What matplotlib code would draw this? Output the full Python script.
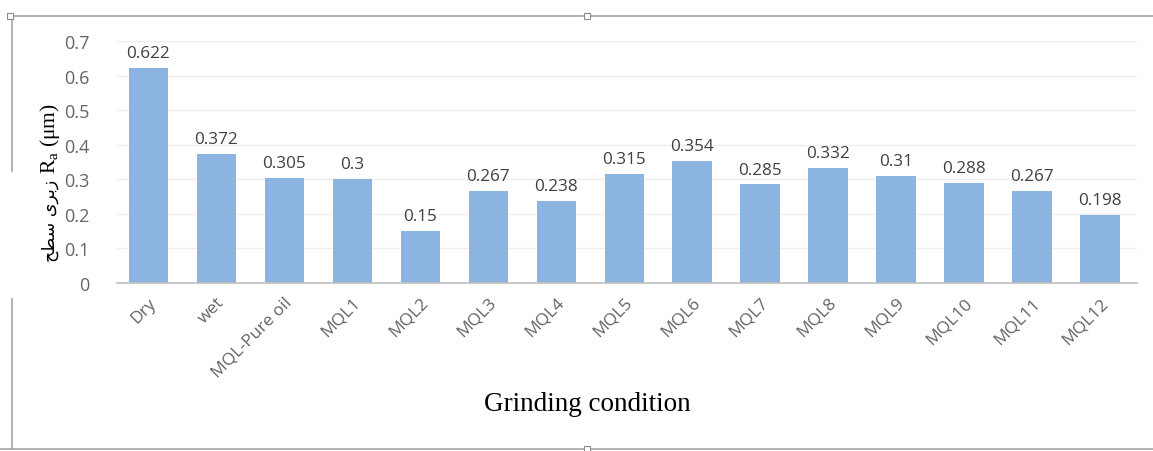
import matplotlib.pyplot as plt
from matplotlib.patches import Rectangle
from matplotlib.lines import Line2D

plt.rcParams["mathtext.fontset"] = "custom"
plt.rcParams["mathtext.rm"] = "Liberation Serif"
plt.rcParams["mathtext.it"] = "Liberation Serif:italic"

conditions = ["Dry", "wet", "MQL-Pure oil", "MQL1", "MQL2", "MQL3", "MQL4", "MQL5",
              "MQL6", "MQL7", "MQL8", "MQL9", "MQL10", "MQL11", "MQL12"]
roughness = [0.622, 0.372, 0.305, 0.3, 0.15, 0.267, 0.238, 0.315,
             0.354, 0.285, 0.332, 0.31, 0.288, 0.267, 0.198]
y_ticks = [0, 0.1, 0.2, 0.3, 0.4, 0.5, 0.6, 0.7]
y_tick_labels = ["0", "0.1", "0.2", "0.3", "0.4", "0.5", "0.6", "0.7"]

BAR_COLOR = "#8cb4e0"
TEXT_GREY = "#656565"
UI_FONT = ["Open Sans", "DejaVu Sans"]

fig = plt.figure(figsize=(11.53, 4.52), dpi=100)
ax = fig.add_axes([0.1015, 0.3717, 0.8845, 0.5354])

x = list(range(len(conditions)))
bars = ax.bar(x, roughness, width=0.58, color=BAR_COLOR, zorder=2)

# value labels on top of each bar
for xi, val in zip(x, roughness):
    ax.annotate(f"{val:g}", (xi, val), xytext=(0, 5), textcoords="offset points",
                ha="center", va="bottom", fontsize=12.3, color="#404040",
                family=UI_FONT, clip_on=False)

ax.set_xlim(-0.46, len(conditions) - 0.46)
ax.set_ylim(0, 0.7)
ax.set_yticks(y_ticks)
ax.set_yticklabels(y_tick_labels, family=UI_FONT, fontsize=13, color=TEXT_GREY)
ax.set_xticks(x)
ax.set_xticklabels(conditions, rotation=45, ha="right", va="top",
                   rotation_mode="anchor", family=UI_FONT, fontsize=12.5, color=TEXT_GREY)
ax.tick_params(axis="both", length=0)
ax.tick_params(axis="y", pad=20)
ax.tick_params(axis="x", pad=8)

ax.grid(axis="y", color="#ededed", linewidth=1, zorder=0)
for side in ["top", "right", "left"]:
    ax.spines[side].set_visible(False)
ax.spines["bottom"].set_color("#bfbfbf")
ax.spines["bottom"].set_linewidth(1.2)

# axis titles
fig.text(587 / 1153, 1 - 405 / 452, "Grinding condition", ha="center", va="center",
         family="Liberation Serif", fontsize=19.5)
fig.text(50 / 1153, 1 - 180 / 452, "\uFEA2\uFEC4\uFEB3 \uFBFC\uFEAE\uFE91\uFEAF",
         rotation=90, ha="center", va="top", family=["DejaVu Sans"], fontsize=12.5)
fig.text(50 / 1153, 1 - 174 / 452, r"$\mathrm{R_a}$ (μm)", rotation=90,
         ha="center", va="bottom", family="Liberation Serif", fontsize=15.5)

# outer frame of the embedded chart
frame_kw = dict(color="#a6a6a6", linewidth=1.2, transform=fig.transFigure)
fig.add_artist(Line2D([10 / 1153, 1], [1 - 17 / 452] * 2, **frame_kw))
fig.add_artist(Line2D([0, 1], [1 - 450 / 452] * 2, **frame_kw))
fig.add_artist(Line2D([12 / 1153] * 2, [1 - 17 / 452, 1 - 172 / 452], **frame_kw))
fig.add_artist(Line2D([12 / 1153] * 2, [1 - 300 / 452, 1 - 450 / 452], **frame_kw))
for hx, hy in [(10, 17), (587, 17), (587, 450)]:
    fig.add_artist(Rectangle(((hx - 3) / 1153, 1 - (hy + 3) / 452), 6 / 1153, 6 / 452,
                             transform=fig.transFigure, facecolor="white",
                             edgecolor="#8c8c8c", linewidth=0.8, zorder=5))

fig.savefig("out.png", dpi=100)
